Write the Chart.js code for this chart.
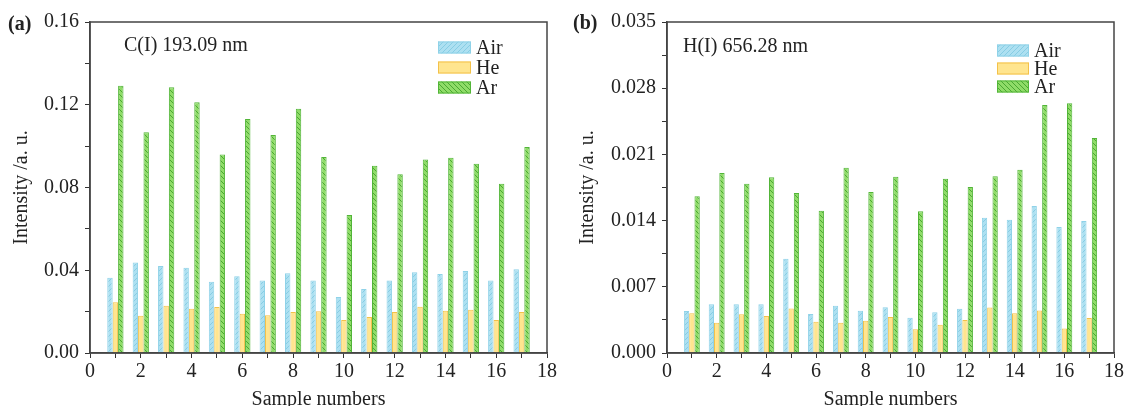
<!DOCTYPE html>
<html>
<head>
<meta charset="utf-8">
<script src="https://cdn.jsdelivr.net/npm/chart.js@4/dist/chart.umd.min.js"></script>
<style>
  html, body { margin: 0; padding: 0; background: #fff; }
  #wrap { position: relative; width: 1126px; height: 406px; overflow: hidden; }
  .pane { position: absolute; top: 0; height: 412px; }
</style>
</head>
<body>
<div id="wrap">
  <div class="pane" style="left:0;width:560px"><canvas id="ca" width="560" height="412"></canvas></div>
  <div class="pane" style="left:560px;width:566px"><canvas id="cb" width="566" height="412"></canvas></div>
</div>
<script>
// ---- data ----
const samples = [1,2,3,4,5,6,7,8,9,10,11,12,13,14,15,16,17];
const seriesNames = ['Air', 'He', 'Ar'];

const cAir = [0.0364,0.0438,0.0421,0.0412,0.0345,0.0371,0.0351,0.0385,0.0351,0.0271,0.0309,0.0351,0.0390,0.0382,0.0396,0.0351,0.0405];
const cHe  = [0.0245,0.0180,0.0229,0.0214,0.0222,0.0190,0.0182,0.0198,0.0202,0.0160,0.0174,0.0198,0.0224,0.0204,0.0209,0.0160,0.0198];
const cAr  = [0.1292,0.1067,0.1284,0.1212,0.0959,0.1131,0.1054,0.1181,0.0947,0.0667,0.0905,0.0864,0.0935,0.0944,0.0915,0.0818,0.0996];

const hAir = [0.00444,0.00515,0.00515,0.00515,0.00997,0.00412,0.00500,0.00447,0.00483,0.00373,0.00430,0.00468,0.01431,0.01410,0.01554,0.01332,0.01396];
const hHe  = [0.0042,0.0032,0.0041,0.0039,0.0047,0.0033,0.0032,0.0034,0.0038,0.0025,0.0030,0.0035,0.0048,0.0042,0.0045,0.0026,0.0037];
const hAr  = [0.01657,0.01903,0.01790,0.01858,0.01692,0.01505,0.01960,0.01702,0.01864,0.01498,0.01843,0.01755,0.01868,0.01938,0.02622,0.02640,0.02273];

const xTicks = [0,2,4,6,8,10,12,14,16,18];
const yTicksA = [0.00,0.04,0.08,0.12,0.16];
const yTicksB = [0.000,0.007,0.014,0.021,0.028,0.035];

// ---- styling helpers ----
const FONT = '"Liberation Serif", "Times New Roman", serif';
const TXT = '#222';

function makePattern(bg, line, dir) {
  const s = 5;
  const c = document.createElement('canvas');
  c.width = s; c.height = s;
  const g = c.getContext('2d');
  g.fillStyle = bg; g.fillRect(0, 0, s, s);
  g.strokeStyle = line; g.lineWidth = 1;
  g.beginPath();
  if (dir === '/') {
    g.moveTo(-1, s + 1); g.lineTo(s + 1, -1);
    g.moveTo(-1, 1); g.lineTo(1, -1);
    g.moveTo(s - 1, s + 1); g.lineTo(s + 1, s - 1);
  } else {
    g.moveTo(-1, -1); g.lineTo(s + 1, s + 1);
    g.moveTo(s - 1, -1); g.lineTo(s + 1, 1);
    g.moveTo(-1, s - 1); g.lineTo(1, s + 1);
  }
  g.stroke();
  return g.createPattern(c, 'repeat');
}

const airFill = makePattern('#ade0f1', '#86cde4', '/');
const heFill = '#ffe58f';
const arFill = makePattern('#8fdc68', '#4aa832', '\\');
const styles = [
  { bg: airFill, border: '#8fd2e8' },
  { bg: heFill, border: '#f3c14a' },
  { bg: arFill, border: '#52b538' }
];

function toXY(arr) { return samples.map((s, i) => ({ x: s, y: arr[i] })); }

function makeDatasets(arrs) {
  return arrs.map((arr, k) => ({
    label: seriesNames[k],
    data: toXY(arr),
    backgroundColor: styles[k].bg,
    borderColor: styles[k].border,
    borderWidth: 1,
    categoryPercentage: 0.64,
    barPercentage: 1.0
  }));
}

// frame + texts + legend plugin
const decorPlugin = {
  id: 'decor',
  afterDraw(chart, args, opts) {
    const ctx = chart.ctx;
    const a = chart.chartArea;
    ctx.save();
    // frame
    ctx.strokeStyle = '#444';
    ctx.lineWidth = 1.5;
    ctx.strokeRect(a.left, a.top, a.right - a.left, a.bottom - a.top);
    // panel letter
    ctx.fillStyle = TXT;
    ctx.textBaseline = 'middle';
    ctx.textAlign = 'left';
    ctx.font = 'bold 20px ' + FONT;
    ctx.fillText(opts.panel, opts.panelX, opts.panelY);
    // line label
    ctx.font = '20px ' + FONT;
    ctx.fillText(opts.note, opts.noteX, opts.noteY);
    // legend
    chart.data.datasets.forEach((ds, i) => {
      const y = opts.legY + i * opts.legDy;
      ctx.fillStyle = ds.backgroundColor;
      ctx.fillRect(opts.legX, y - opts.legH / 2, opts.legW, opts.legH);
      ctx.strokeStyle = ds.borderColor;
      ctx.lineWidth = 1;
      ctx.strokeRect(opts.legX + 0.5, y - opts.legH / 2 + 0.5, opts.legW - 1, opts.legH - 1);
      ctx.fillStyle = TXT;
      ctx.font = '20px ' + FONT;
      ctx.fillText(ds.label, opts.legX + opts.legW + 5, y + 1);
    });
    ctx.restore();
  }
};

function buildChart(id, arrs, yMax, yStep, yMajor, digits, yWidth, padRight, titleOffset, decor) {
  return new Chart(document.getElementById(id), {
    type: 'bar',
    data: { datasets: makeDatasets(arrs) },
    options: {
      responsive: false,
      animation: false,
      layout: { padding: { top: 22, right: padRight, bottom: 0, left: 0 } },
      plugins: {
        legend: { display: false },
        tooltip: { enabled: false },
        decor: decor
      },
      scales: {
        x: {
          type: 'linear',
          min: 0, max: 18,
          offset: false,
          grid: { display: true, drawOnChartArea: false, drawTicks: true, tickLength: 5, tickColor: '#333', offset: false },
          border: { display: true, color: '#444', width: 1.5 },
          ticks: {
            stepSize: 1,
            autoSkip: false,
            maxRotation: 0,
            padding: 2,
            color: TXT,
            font: { family: FONT, size: 20 },
            callback: (v) => xTicks.includes(v) ? String(v) : ''
          },
          title: {
            display: true,
            text: 'Sample numbers',
            color: TXT,
            font: { family: FONT, size: 20 },
            padding: { top: 0, bottom: 0 }
          },
          afterFit: (s) => { s.height = 59; }
        },
        y: {
          min: 0, max: yMax,
          grid: { display: true, drawOnChartArea: false, drawTicks: true, tickLength: 5, tickColor: '#333' },
          border: { display: true, color: '#444', width: 1.5 },
          ticks: {
            stepSize: yStep,
            padding: 6,
            color: TXT,
            font: { family: FONT, size: 20 },
            callback: (v) => {
              const hit = yMajor.find(t => Math.abs(t - v) < yStep / 10);
              return hit !== undefined ? hit.toFixed(digits) : '';
            }
          },
          title: {
            display: true,
            text: 'Intensity /a. u.',
            color: TXT,
            font: { family: FONT, size: 20 },
            padding: { top: titleOffset, bottom: 0 }
          },
          afterFit: (s) => { s.width = yWidth; }
        }
      }
    },
    plugins: [decorPlugin]
  });
}

buildChart('ca', [cAir, cHe, cAr], 0.16, 0.02, yTicksA, 2, 90, 13, 10, {
  panel: '(a)', panelX: 8, panelY: 25,
  note: 'C(I) 193.09 nm', noteX: 124, noteY: 46,
  legX: 438, legY: 47.5, legDy: 20, legW: 33, legH: 12
});

buildChart('cb', [hAir, hHe, hAr], 0.035, 0.0035, yTicksB, 3, 107, 11, 16, {
  panel: '(b)', panelX: 13, panelY: 24,
  note: 'H(I) 656.28 nm', noteX: 123, noteY: 47,
  legX: 437, legY: 50.5, legDy: 18, legW: 32, legH: 12
});
</script>
</body>
</html>
